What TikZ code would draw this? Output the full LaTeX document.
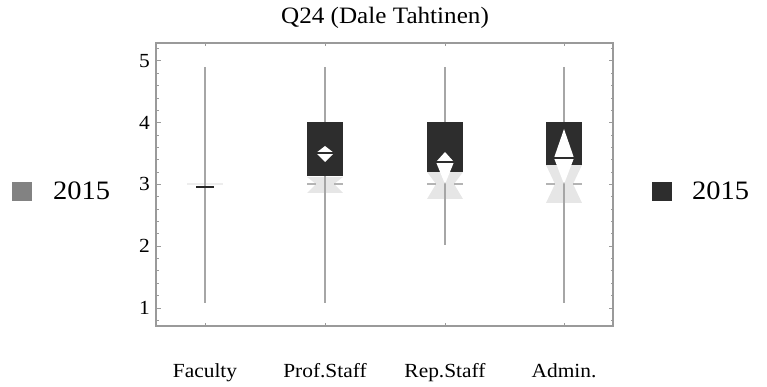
\documentclass[tikz,border=0pt]{standalone}
\usepackage{fontspec}
\setmainfont{Liberation Serif}[FakeStretch=1.07]
\definecolor{framegray}{HTML}{9A9A9A}
\definecolor{whiskergray}{HTML}{A6A6A6}
\definecolor{boxdark}{HTML}{2D2D2D}
\definecolor{boxlight}{HTML}{E6E6E6}
\definecolor{medgray}{HTML}{B4B4B4}
\definecolor{legendgray}{HTML}{828282}
\tikzset{
  frame/.style={draw=framegray, line width=1.3pt},
  tickmark/.style={draw=framegray, line width=1pt},
  whisker/.style={draw=whiskergray, line width=1.2pt},
  darkbox/.style={fill=boxdark},
  lightbox/.style={fill=boxlight},
  notchcut/.style={fill=white},
  darkmedian/.style={draw=boxdark, line width=1.3pt},
  lightmedian/.style={draw=medgray, line width=1.2pt},
  ticklabel/.style={font=\fontsize{20}{22}\selectfont, anchor=base east, inner sep=0pt},
  catlabel/.style={font=\fontsize{20}{22}\selectfont, anchor=base, inner sep=0pt},
  legendtext/.style={font=\fontsize{26.6}{30}\selectfont, anchor=base west, inner sep=0pt},
}
\begin{document}
\begin{tikzpicture}[x=1pt, y=-1pt]
\useasboundingbox (0,0) rectangle (767,387);

% title
\node[font=\fontsize{23.5}{26}\selectfont, anchor=base, inner sep=0pt] (title) at (385,24) {Q24 (Dale Tahtinen)};

% y ticks (0.8 ... 5.2 in steps of 0.2), left and right
\foreach \i in {0,...,22} {
  \pgfmathsetmacro{\yy}{320.35 - 12.35*\i}
  \pgfmathsetmacro{\len}{ifthenelse(mod(\i+4,5)==0, 4.5, 2.5)}
  \draw[tickmark] (156,\yy) -- ++(\len,0);
  \draw[tickmark] (613,\yy) -- ++(-\len,0);
}
% y tick labels
\foreach \v/\yy in {1/308, 2/246.25, 3/184.5, 4/122.75, 5/61} {
  \node[ticklabel] (ylab\v) at (150,\yy+6.5) {\v};
}

% category ticks on top and bottom
\foreach \c in {205,325,445,564} {
  \draw[tickmark] (\c,326) -- ++(0,-3.5);
  \draw[tickmark] (\c,43) -- ++(0,3.5);
}

% earlier-year boxes: light notched hourglass shapes with median marks
\foreach \c/\t/\b in {325/177/193, 445/172/199, 564/165/203} {
  \fill[lightbox] (\c-18,\t) -- (\c+18,\t) -- (\c+9,184) -- (\c+18,\b)
        -- (\c-18,\b) -- (\c-9,184) -- cycle;
  \draw[lightmedian] (\c-18,184) -- (\c-9,184);
  \draw[lightmedian] (\c+9,184) -- (\c+18,184);
}
\draw[draw=boxlight!70, line width=1.2pt] (187,184) -- (223,184);

% whiskers
\draw[whisker] (205,67) -- (205,303);
\draw[whisker] (325,67) -- (325,303);
\draw[whisker] (445,67) -- (445,245);
\draw[whisker] (564,67) -- (564,303);

% current-year boxes
\fill[darkbox] (307,122) rectangle (343,176);
\fill[darkbox] (427,122) rectangle (463,172);
\fill[darkbox] (546,122) rectangle (582,165);

% notches: top apex / median / bottom apex
\foreach \c/\ta/\m/\ba/\h in {325/146/153/162/9, 445/152/162/184/9, 564/129/158/184/10} {
  \fill[notchcut] (\c,\ta) -- (\c+\h,\m) -- (\c,\ba) -- (\c-\h,\m) -- cycle;
  \draw[darkmedian] (\c-\h,\m) -- (\c+\h,\m);
}
% faculty: degenerate box, median only
\draw[draw=black!85, line width=1.3pt] (196,187) -- (214,187);

% plot frame
\draw[frame] (156,43) rectangle (613,326);

% category labels
\node[catlabel] (faculty) at (205,377) {Faculty};
\node[catlabel] (prof) at (325,377) {Prof.Staff};
\node[catlabel] (rep) at (445,377) {Rep.Staff};
\node[catlabel] (admin) at (564,377) {Admin.};

% legends
\fill[legendgray] (12,182) rectangle (32,201);
\node[legendtext] (legleft) at (53,200) {2015};
\fill[boxdark] (652,182) rectangle (672,201);
\node[legendtext] (legright) at (692,200) {2015};
\end{tikzpicture}
\end{document}
